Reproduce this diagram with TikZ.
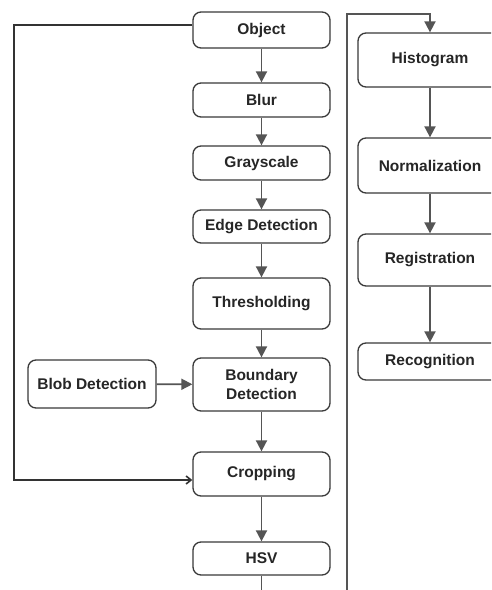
\documentclass[tikz,border=0pt]{standalone}
\usepackage{fontspec}
\setmainfont{Liberation Sans}
\usetikzlibrary{arrows.meta}
\definecolor{lc}{HTML}{555555}
\definecolor{bc}{HTML}{3A3A3A}
\begin{document}
\begin{tikzpicture}[x=1pt,y=-1pt,
  box/.style={draw=bc,line width=1.3pt,rounded corners=8pt,fill=white,
    font=\fontsize{15.5}{17}\selectfont\bfseries,text=black!85,align=center,inner sep=0pt},
  lbox/.style={box,minimum width=137pt},
  rbox/.style={box,minimum width=144pt},
  conn/.style={draw=lc,line width=1.8pt,-{Triangle[length=11pt,width=11pt]}},
  plain/.style={draw=lc,line width=1.8pt},
  loop/.style={draw=black!80,line width=1.6pt,-{Straight Barb[length=5pt,width=8pt]}}]
\useasboundingbox (0,0) rectangle (491,590);
\clip (0,0) rectangle (491,590);
\fill[white] (0,0) rectangle (491,590);
% left column
\node[lbox,minimum height=36pt] (obj) at (261.5,30) {Object};
\node[lbox,minimum height=34pt] (blur) at (261.5,100) {Blur};
\node[lbox,minimum height=34pt] (gray) at (261.5,163) {Grayscale};
\node[lbox,minimum height=33pt] (edge) at (261.5,226.5) {Edge Detection};
\node[lbox,minimum height=51pt] (thr) at (261.5,303.5) {Thresholding};
\node[lbox,minimum height=53pt] (bnd) at (261.5,384.5) {Boundary\\[2pt]Detection};
\node[box,minimum width=128pt,minimum height=48pt] (blob) at (92,384) {Blob Detection};
\node[lbox,minimum height=44pt] (crop) at (261.5,474) {Cropping};
\node[lbox,minimum height=33pt] (hsv) at (261.5,558.5) {HSV};
\coordinate (hsvend) at (261.5,592);
% right column
\node[rbox,minimum height=54pt] (hist) at (430,60) {Histogram};
\node[rbox,minimum height=55pt] (norm) at (430,165.5) {Normalization};
\node[rbox,minimum height=52pt] (reg) at (430,260) {Registration};
\node[rbox,minimum height=37pt] (rec) at (430,361.5) {Recognition};
\coordinate (rbot) at (347,592);
\coordinate (rtop) at (347,14);
\coordinate (rtopr) at (430,14);
\coordinate (lt) at (14,25);
\coordinate (lb) at (14,480);
% connectors
\draw[conn] (obj) -- (blur);
\draw[conn] (blur) -- (gray);
\draw[conn] (gray) -- (edge);
\draw[conn] (edge) -- (thr);
\draw[conn] (thr) -- (bnd);
\draw[conn] (bnd) -- (crop);
\draw[conn] (crop) -- (hsv);
\draw[plain] (hsv) -- (hsvend);
\draw[conn] (blob) -- (bnd);
\draw[loop,rounded corners=0pt] ([yshift=5pt]obj.west) -- (lt) -- (lb) -- ([yshift=-6pt]crop.west);
\draw[conn] (rbot) -- (rtop) -- (rtopr) -- (hist.north);
\draw[conn] (hist) -- (norm);
\draw[conn] (norm) -- (reg);
\draw[conn] (reg) -- (rec);
\end{tikzpicture}
\end{document}
